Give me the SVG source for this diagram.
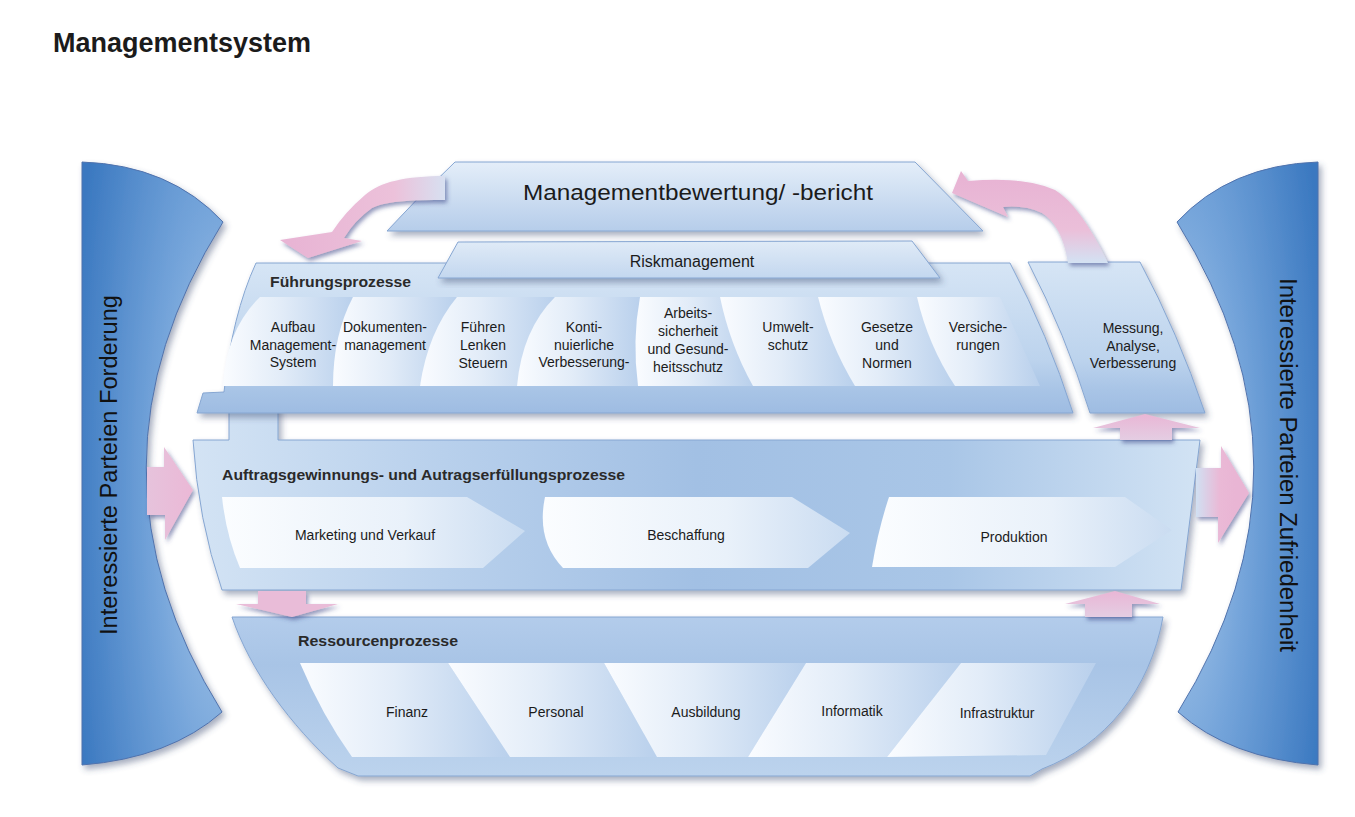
<svg xmlns="http://www.w3.org/2000/svg" width="1355" height="817" viewBox="0 0 1355 817">
<style>
.t{font-family:"Liberation Sans",Arial,Helvetica,sans-serif;fill:#1b1b1b}
.lb{font-size:14px;text-anchor:middle}
.hd{font-size:15px;font-weight:bold;fill:#2a2a2a}
.side{font-size:23px;text-anchor:middle;fill:#111}
.edge{stroke:#86a6d2;stroke-width:1}
.arr{filter:url(#ash)}
</style>
<defs>
<filter id="sh" x="-10%" y="-10%" width="125%" height="135%">
<feDropShadow dx="3" dy="4" stdDeviation="3" flood-color="#3b4c72" flood-opacity="0.45"/>
</filter>
<filter id="ash" x="-20%" y="-20%" width="150%" height="160%">
<feDropShadow dx="2" dy="3" stdDeviation="2" flood-color="#3a4585" flood-opacity="0.55"/>
</filter>
<linearGradient id="gBody" x1="0" y1="0" x2="0" y2="1">
<stop offset="0" stop-color="#d6e5f5"/><stop offset="0.65" stop-color="#bcd3ed"/><stop offset="0.85" stop-color="#a8c4e6"/><stop offset="1" stop-color="#9ebce2"/>
</linearGradient>
<linearGradient id="gBand" x1="0" y1="0" x2="1" y2="0">
<stop offset="0" stop-color="#d3e3f4"/><stop offset="0.25" stop-color="#b8d0ec"/><stop offset="0.5" stop-color="#a2c0e4"/><stop offset="0.75" stop-color="#a9c6e7"/><stop offset="1" stop-color="#d2e3f4"/>
</linearGradient>
<linearGradient id="gRes" x1="0" y1="0" x2="0" y2="1">
<stop offset="0" stop-color="#b3cceb"/><stop offset="0.3" stop-color="#a8c4e6"/><stop offset="1" stop-color="#bcd3ed"/>
</linearGradient>
<linearGradient id="gTop" x1="0" y1="0" x2="0" y2="1">
<stop offset="0" stop-color="#e4eef9"/><stop offset="1" stop-color="#b6cdea"/>
</linearGradient>
<linearGradient id="gRisk" x1="0" y1="0" x2="0" y2="1">
<stop offset="0" stop-color="#e0ebf7"/><stop offset="1" stop-color="#c3d7ef"/>
</linearGradient>
<linearGradient id="gBox" x1="0" y1="0" x2="1" y2="0">
<stop offset="0" stop-color="#fafcff"/><stop offset="0.45" stop-color="#e2ecf8"/><stop offset="1" stop-color="#b9d0ec"/>
</linearGradient>
<linearGradient id="gChev" x1="0" y1="0" x2="1" y2="0">
<stop offset="0" stop-color="#fbfdff"/><stop offset="0.6" stop-color="#e9f1fa"/><stop offset="1" stop-color="#cadcf1"/>
</linearGradient>
<radialGradient id="gPL" cx="1" cy="0.55" r="1.1">
<stop offset="0" stop-color="#b0cdec"/><stop offset="0.45" stop-color="#74a4da"/><stop offset="1" stop-color="#3a78c0"/>
</radialGradient>
<radialGradient id="gPR" cx="0" cy="0.55" r="1.1">
<stop offset="0" stop-color="#b0cdec"/><stop offset="0.45" stop-color="#74a4da"/><stop offset="1" stop-color="#3a78c0"/>
</radialGradient>
<linearGradient id="gA1" gradientUnits="userSpaceOnUse" x1="290" y1="0" x2="450" y2="0">
<stop offset="0" stop-color="#e8b4d4"/><stop offset="0.65" stop-color="#ecc1da"/><stop offset="1" stop-color="#d5e3f3"/>
</linearGradient>
<linearGradient id="gA2" gradientUnits="userSpaceOnUse" x1="0" y1="180" x2="0" y2="263">
<stop offset="0" stop-color="#e8b4d4"/><stop offset="0.6" stop-color="#ebbfd9"/><stop offset="1" stop-color="#d3e2f3"/>
</linearGradient>
<linearGradient id="gAR" gradientUnits="userSpaceOnUse" x1="1196" y1="0" x2="1235" y2="0">
<stop offset="0" stop-color="#d0e0f2"/><stop offset="0.6" stop-color="#eab9d6"/><stop offset="1" stop-color="#e9b5d4"/>
</linearGradient>
<linearGradient id="gAL" gradientUnits="userSpaceOnUse" x1="146" y1="0" x2="193" y2="0">
<stop offset="0" stop-color="#e6c3dc"/><stop offset="1" stop-color="#ebb8d6"/>
</linearGradient>
<linearGradient id="gAV" x1="0" y1="0" x2="0" y2="1">
<stop offset="0" stop-color="#e9b6d5"/><stop offset="1" stop-color="#e4cde2"/>
</linearGradient>
</defs>

<rect width="1355" height="817" fill="#ffffff"/>
<text class="t" x="53" y="52" font-size="27" font-weight="bold">Managementsystem</text>

<g id="panel-forderung">
<path d="M82,162 Q170,165 223,222 Q70,467 222,712 Q170,758 82,765 Z" fill="url(#gPL)" filter="url(#sh)" stroke="#4f72ad" stroke-width="1"/>
<text class="t side" transform="translate(117,465) rotate(-90)" textLength="340" lengthAdjust="spacingAndGlyphs">Interessierte Parteien Forderung</text>
</g>

<g id="panel-zufriedenheit">
<path d="M1318,162 Q1230,165 1177,222 Q1330,467 1178,712 Q1230,758 1318,765 Z" fill="url(#gPR)" filter="url(#sh)" stroke="#4f72ad" stroke-width="1"/>
<text class="t side" transform="translate(1280,465) rotate(90)" textLength="374" lengthAdjust="spacingAndGlyphs">Interessierte Parteien Zufriedenheit</text>
</g>

<g id="managementbewertung">
<path d="M455,162 L915,162 L983,231 L387,231 Q420,195 455,162 Z" fill="url(#gTop)" class="edge" filter="url(#sh)"/>
<text class="t" x="698" y="200" font-size="22" text-anchor="middle" textLength="350" lengthAdjust="spacingAndGlyphs">Managementbewertung/ -bericht</text>
</g>

<g id="auftragsprozesse">
<path d="M193,440 L229,440 L229,405 L278,405 L278,440 L1200,440 L1181,590 L222,590 Q198,520 193,440 Z" fill="url(#gBand)" class="edge" filter="url(#sh)"/>
<text class="t hd" x="222" y="480" textLength="403" lengthAdjust="spacingAndGlyphs">Auftragsgewinnungs- und Autragserfüllungsprozesse</text>
</g>
<g id="marketing">
<path d="M222,497 L467,497 L525,531 L483,568 L240,568 Q226,535 222,497 Z" fill="url(#gChev)"/>
<text class="t lb" x="365" y="540">Marketing und Verkauf</text>
</g>
<g id="beschaffung">
<path d="M545,497 L792,497 L850,533 L808,568 L563,568 Q536,540 545,497 Z" fill="url(#gChev)"/>
<text class="t lb" x="686" y="540">Beschaffung</text>
</g>
<g id="produktion">
<path d="M889,497 L1125,497 L1172,530 L1115,567 L872,567 Q878,530 889,497 Z" fill="url(#gChev)"/>
<text class="t lb" x="1014" y="542">Produktion</text>
</g>

<g id="fuehrungsprozesse">
<path d="M256,263 L1010,263 Q1048,335 1073,413 L197,413 L203,393 L224,392 Q232,315 256,263 Z" fill="url(#gBody)" class="edge" filter="url(#sh)"/>
<text class="t hd" x="270" y="287" textLength="141" lengthAdjust="spacingAndGlyphs">Führungsprozesse</text>
</g>

<g id="riskmanagement">
<path d="M458,242 L912,241 L940,278 L438,278 Z" fill="url(#gRisk)" class="edge" filter="url(#sh)"/>
<text class="t" x="692" y="267" font-size="16" text-anchor="middle">Riskmanagement</text>
</g>

<g id="aufbau">
<path d="M260,297 L353,297 L333,386 L223,386 Q226,330 260,297 Z" fill="url(#gBox)"/>
<text class="t lb"><tspan x="293" y="332">Aufbau</tspan><tspan x="293" y="350">Management-</tspan><tspan x="293" y="367">System</tspan></text>
</g>
<g id="dokumente">
<path d="M353,297 L457,297 L420,386 L333,386 Q333,335 353,297 Z" fill="url(#gBox)"/>
<text class="t lb"><tspan x="385" y="332">Dokumenten-</tspan><tspan x="385" y="350">management</tspan></text>
</g>
<g id="fuehren">
<path d="M457,297 L555,297 L517,386 L420,386 Q428,332 457,297 Z" fill="url(#gBox)"/>
<text class="t lb"><tspan x="483" y="332">Führen</tspan><tspan x="483" y="350">Lenken</tspan><tspan x="483" y="368">Steuern</tspan></text>
</g>
<g id="kvp">
<path d="M555,297 L640,297 L638,386 L517,386 Q522,330 555,297 Z" fill="url(#gBox)"/>
<text class="t lb"><tspan x="584" y="332">Konti-</tspan><tspan x="584" y="350">nuierliche</tspan><tspan x="584" y="367">Verbesserung-</tspan></text>
</g>
<g id="arbeitssicherheit">
<path d="M640,297 L720,297 L753,386 L638,386 Q632,340 640,297 Z" fill="url(#gBox)"/>
<text class="t lb"><tspan x="688" y="318">Arbeits-</tspan><tspan x="688" y="336">sicherheit</tspan><tspan x="688" y="354">und Gesund-</tspan><tspan x="688" y="372">heitsschutz</tspan></text>
</g>
<g id="umweltschutz">
<path d="M720,297 L818,297 L855,386 L753,386 Q730,345 720,297 Z" fill="url(#gBox)"/>
<text class="t lb"><tspan x="788" y="332">Umwelt-</tspan><tspan x="788" y="350">schutz</tspan></text>
</g>
<g id="gesetze">
<path d="M818,297 L917,297 L955,386 L855,386 Q830,345 818,297 Z" fill="url(#gBox)"/>
<text class="t lb"><tspan x="887" y="332">Gesetze</tspan><tspan x="887" y="350">und</tspan><tspan x="887" y="368">Normen</tspan></text>
</g>
<g id="versicherungen">
<path d="M917,297 L1000,297 L1040,386 L955,386 Q928,345 917,297 Z" fill="url(#gBox)"/>
<text class="t lb"><tspan x="978" y="332">Versiche-</tspan><tspan x="978" y="350">rungen</tspan></text>
</g>

<g id="messung">
<path d="M1028,262 L1140,262 Q1178,333 1205,413 L1090,413 Q1065,333 1028,262 Z" fill="url(#gBody)" class="edge" filter="url(#sh)"/>
<text class="t lb"><tspan x="1133" y="333">Messung,</tspan><tspan x="1133" y="351">Analyse,</tspan><tspan x="1133" y="368">Verbesserung</tspan></text>
</g>

<g id="ressourcenprozesse">
<path d="M232,617 L1163,617 C1150,690 1105,745 1042,769 L1030,776 L358,776 L338,768 C290,725 250,670 232,617 Z" fill="url(#gRes)" class="edge" filter="url(#sh)"/>
<text class="t hd" x="298" y="646" textLength="160" lengthAdjust="spacingAndGlyphs">Ressourcenprozesse</text>
</g>
<g id="finanz">
<path d="M300,663 L448,663 L510,757 L352,757 Q322,715 300,663 Z" fill="url(#gBox)"/>
<text class="t lb" x="407" y="717">Finanz</text>
</g>
<g id="personal">
<path d="M448,663 L604,663 L657,757 L510,757 Z" fill="url(#gBox)"/>
<text class="t lb" x="556" y="717">Personal</text>
</g>
<g id="ausbildung">
<path d="M604,663 L806,663 L748,757 L657,757 Z" fill="url(#gBox)"/>
<text class="t lb" x="706" y="717">Ausbildung</text>
</g>
<g id="informatik">
<path d="M806,663 L961,663 L887,757 L748,757 Z" fill="url(#gBox)"/>
<text class="t lb" x="852" y="716">Informatik</text>
</g>
<g id="infrastruktur">
<path d="M961,663 L1096,663 L1046,755 L887,757 Z" fill="url(#gBox)"/>
<text class="t lb" x="997" y="718">Infrastruktur</text>
</g>

<g id="connectors">
<path class="arr" d="M445,176 C405,176 380,182 365,195 Q345,212 332,232 L280,240 L308,258 L362,241 L344,238 Q355,220 372,208 Q388,199 445,200 Z" fill="url(#gA1)"/>
<path class="arr" d="M1068,263 Q1062,225 1042,213 Q1025,205 1003,207 L1008,217 L952,193 L961,171 L968,181 Q1025,176 1055,190 Q1080,205 1108,263 Z" fill="url(#gA2)"/>
<path class="arr" d="M147,467 L164,467 L164,447 L193,490 L165,540 L165,515 L147,515 Z" fill="url(#gAL)"/>
<path class="arr" d="M1196,468 L1221,468 L1221,446 L1249,493 L1218,543 L1218,517 L1196,517 Z" fill="url(#gAR)"/>
<path class="arr" d="M258,591 L306,591 L306,604 L338,604 L292,617 L236,604 L258,604 Z" fill="#e9bcd8"/>
<path class="arr" d="M1085,617 L1132,617 L1132,604 L1160,604 L1115,591 L1065,604 L1085,604 Z" fill="url(#gAV)"/>
<path class="arr" d="M1120,440 L1172,440 L1172,428 L1200,428 L1145,414 L1093,428 L1120,428 Z" fill="url(#gAV)"/>
</g>
</svg>
